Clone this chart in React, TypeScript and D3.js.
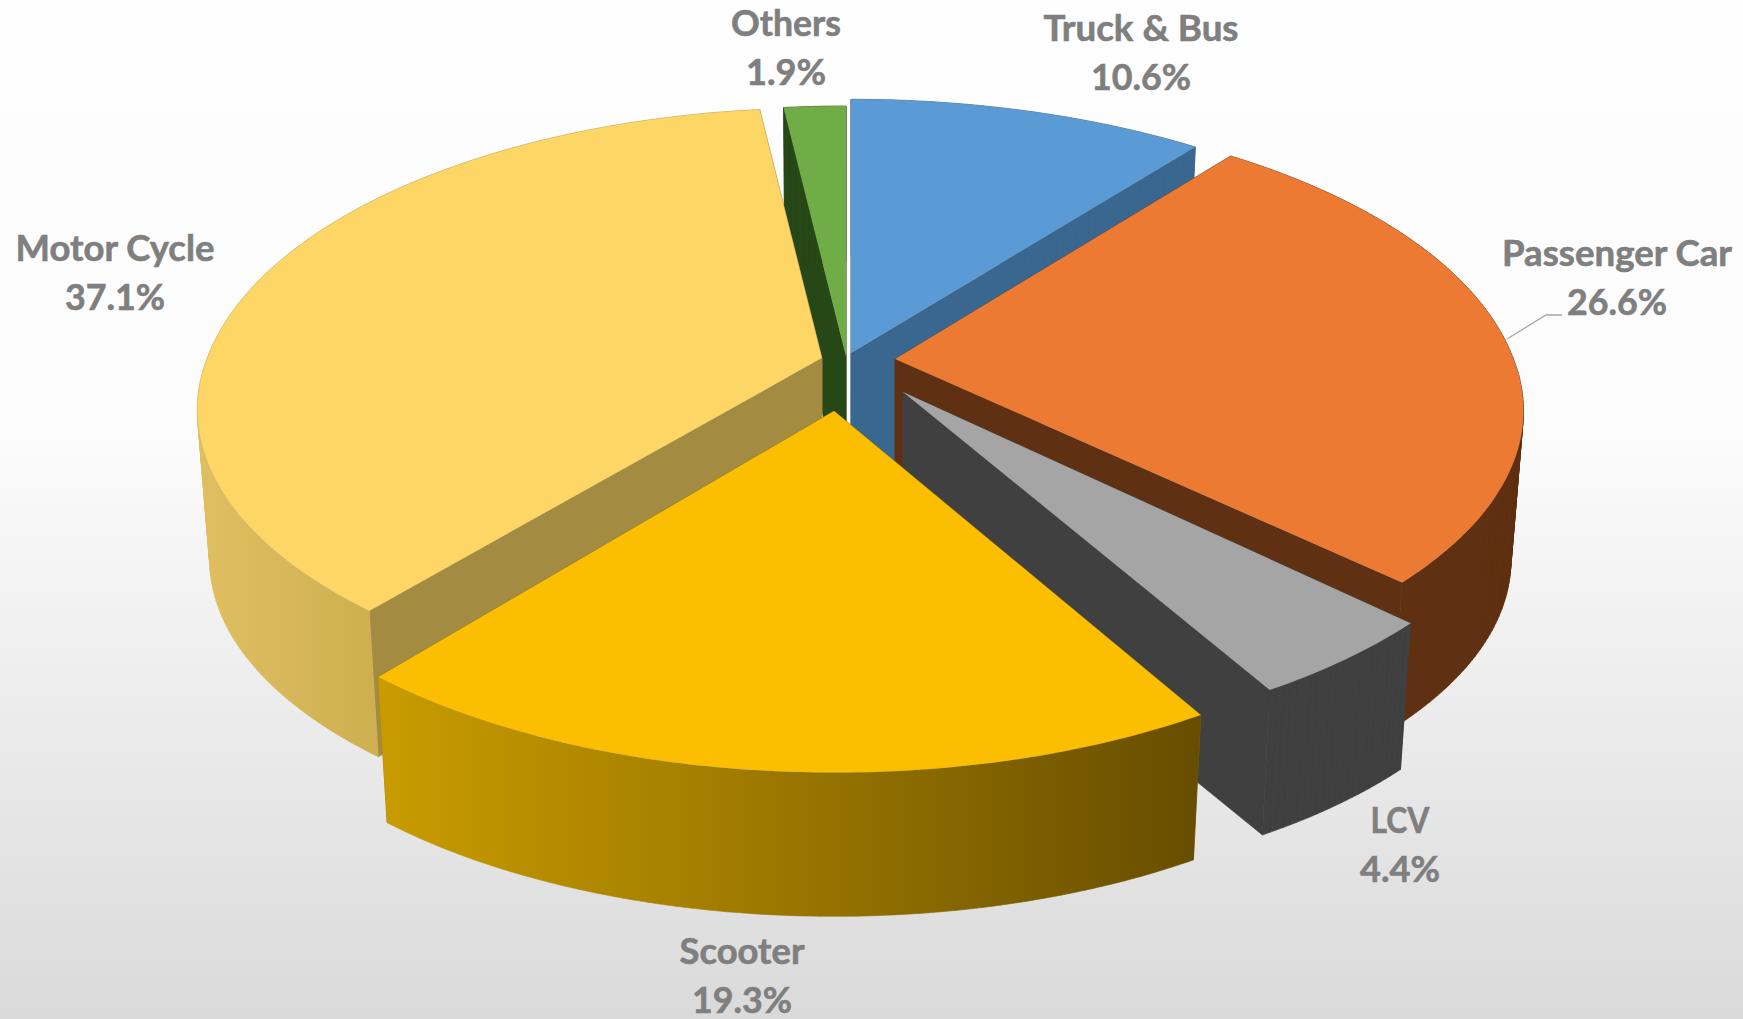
import React from "react";
import * as d3 from "d3";

const categories = ["Truck & Bus", "Passenger Car", "LCV", "Scooter", "Motor Cycle", "Others"];
const shares = [10.6, 26.6, 4.4, 19.3, 37.1, 1.9];
const shareLabels = ["10.6%", "26.6%", "4.4%", "19.3%", "37.1%", "1.9%"];

const W = 1743, H = 1019;
const R = 616, B = 294.4, K = 0.1776, DEPTH = 151, BOTTOM = 0.98;

// slice layout: where each exploded apex sits on the page, and its look
const apexes: [number, number][] = [[851, 353], [895, 359], [903, 392], [834, 411], [822, 358], [846, 356]];
// per-slice fit of the projection: x scale, scale above the apex, scale below the apex
const sliceFit = [
  [1.03, 1.015, 1],
  [1.004, 1.0, 0.957],
  [1.005, 1, 0.99],
  [1.005, 1, 1.01],
  [0.998, 1.0, 0.96],
  [1, 1, 1],
];
const tops = ["#5b9bd5", "#ec7a32", "#a5a5a5", "#fcbe00", "#fdd666", "#70ad47"];
const walls = ["#3a678f", "#5f3112", "#404040", "url(#scooterWall)", "url(#motorWall)", "#264716"];
const edges = ["#3a678f", "#5f3112", "#404040", "#8f7000", "#a38c41", "#264716"];
// label centres: x, name baseline, share baseline, fitted name width, fitted share width
const labelBoxes = [
  [1141, 41, 90, 195, 100],
  [1617, 266, 315, 230, 100],
  [1400, 833, 882, 59, 80],
  [742, 964, 1013, 125, 100],
  [115, 261, 310, 199, 100],
  [786, 36, 85, 110, 80],
];
const leader: [number, number][] = [[1507, 339], [1546, 315], [1562, 315]];

const pie = d3.pie<number>().sort(null).startAngle(0).endAngle(Math.PI * 2);
const slices = pie(shares);

type P = [number, number];
function project(i: number, a: number): P {
  const u = Math.sin(a), v = -Math.cos(a);
  const w = 1 / (1 - K * v);
  const [sx, up, down] = sliceFit[i];
  const y = B * v * w;
  return [R * u * w * sx, y * (y < 0 ? up : down)];
}
const topPt = (i: number, o: P): P => [apexes[i][0] + o[0], apexes[i][1] + o[1]];
const botPt = (i: number, o: P): P => [apexes[i][0] + o[0] * BOTTOM, apexes[i][1] + o[1] * BOTTOM + DEPTH];
const path = (pts: P[]) => d3.line<P>()(pts) + "Z";

// Every quad wound the same way, so the non-zero fill gives the union and the cylinder's silhouette is kept.
function quadPath(a: P, b: P, c: P, d: P) {
  const area = d3.polygonArea([a, b, c, d]);
  return path(area >= 0 ? [a, b, c, d] : [d, c, b, a]);
}

function arcOffsets(i: number, s: d3.PieArcDatum<number>): P[] {
  const n = Math.max(8, Math.ceil((s.endAngle - s.startAngle) * 80));
  return d3.range(n + 1).map((k) => project(i, s.startAngle + ((s.endAngle - s.startAngle) * k) / n));
}

export default function App() {
  return (
    <svg width={W} height={H} viewBox={`0 0 ${W} ${H}`} style={{ position: "fixed", left: 0, top: 0, display: "block" }}>
      <defs>
        <linearGradient id="bg" x1="0" y1="0" x2="0" y2="1">
          <stop offset="0" stopColor="#fefefe" />
          <stop offset="0.42" stopColor="#fcfcfc" />
          <stop offset="1" stopColor="#dadada" />
        </linearGradient>
        <linearGradient id="scooterWall" gradientUnits="userSpaceOnUse" x1="380" y1="0" x2="1200" y2="0">
          <stop offset="0" stopColor="#c89c00" />
          <stop offset="0.5" stopColor="#9a7600" />
          <stop offset="1" stopColor="#674d00" />
        </linearGradient>
        <linearGradient id="motorWall" gradientUnits="userSpaceOnUse" x1="195" y1="0" x2="380" y2="0">
          <stop offset="0" stopColor="#e0bf62" />
          <stop offset="1" stopColor="#cdaf50" />
        </linearGradient>
      </defs>
      <rect width={W} height={H} fill="url(#bg)" />
      {[0, 5, 4, 1, 2, 3].map((i) => {
        const s = slices[i];
        const arc = arcOffsets(i, s);
        const first = arc[0], last = arc[arc.length - 1];
        const zero: P = [0, 0];
        const wall = arc
          .slice(1)
          .map((o, k) => quadPath(topPt(i, arc[k]), topPt(i, o), botPt(i, o), botPt(i, arc[k])))
          .join("");
        const edgeA = [topPt(i, zero), topPt(i, first), botPt(i, first), botPt(i, zero)];
        const edgeB = [topPt(i, zero), topPt(i, last), botPt(i, last), botPt(i, zero)];
        const top = [topPt(i, zero), ...arc.map((o) => topPt(i, o))];
        return (
          <g key={categories[i]}>
            <path d={path(edgeA)} fill={edges[i]} stroke={edges[i]} strokeWidth={0.6} />
            <path d={path(edgeB)} fill={edges[i]} stroke={edges[i]} strokeWidth={0.6} />
            <path d={wall} fill={walls[i]} stroke={walls[i]} strokeWidth={0.6} />
            <path d={path(top)} fill={tops[i]} stroke="#8a8a6a" strokeOpacity={0.25} strokeWidth={0.6} />
          </g>
        );
      })}
      <polyline points={leader.map((p) => p.join(",")).join(" ")} fill="none" stroke="#a6a6a6" strokeWidth={1.3} />
      {categories.map((c, i) => {
        const [x, y1, y2, w1, w2] = labelBoxes[i];
        const common = {
          x,
          textAnchor: "middle" as const,
          fill: "#7f7f7f",
          stroke: "#7f7f7f",
          strokeWidth: 0.6,
          fontFamily: "Lato, 'Open Sans', sans-serif",
          fontWeight: 700,
          fontSize: 36,
          lengthAdjust: "spacingAndGlyphs" as const,
        };
        return (
          <g key={c}>
            <text {...common} y={y1} textLength={w1}>{c}</text>
            <text {...common} y={y2} textLength={w2}>{shareLabels[i]}</text>
          </g>
        );
      })}
    </svg>
  );
}
